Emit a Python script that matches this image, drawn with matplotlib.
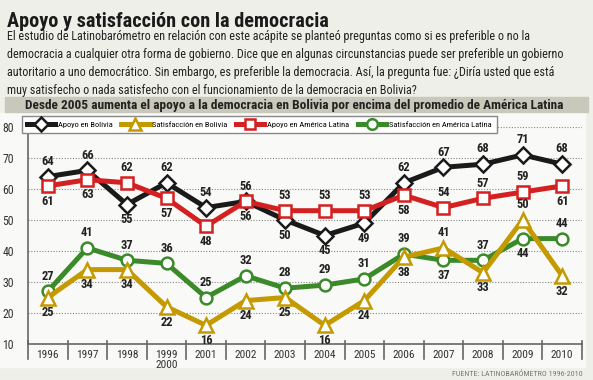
import matplotlib.pyplot as plt
from matplotlib.patches import Rectangle
from matplotlib.lines import Line2D

years = ['1996', '1997', '1998', '1999\n2000', '2001', '2002', '2003',
         '2004', '2005', '2006', '2007', '2008', '2009', '2010']
apoyo_bol = [64, 66, 55, 62, 54, 56, 50, 45, 49, 62, 67, 68, 71, 68]
satis_bol = [25, 34, 34, 22, 16, 24, 25, 16, 24, 38, 41, 33, 50, 32]
apoyo_al = [61, 63, 62, 57, 48, 56, 53, 53, 53, 58, 54, 57, 59, 61]
satis_al = [27, 41, 37, 36, 25, 32, 28, 29, 31, 39, 37, 37, 44, 44]

# label side for each point: 1 above, -1 below
side_ab = [1, 1, -1, 1, 1, -1, -1, -1, -1, 1, 1, 1, 1, 1]
side_sb = [-1, -1, -1, -1, -1, -1, -1, -1, -1, -1, 1, -1, 1, -1]
side_aa = [-1, -1, 1, -1, -1, 1, 1, 1, 1, -1, 1, 1, 1, -1]
side_sa = [1, 1, 1, 1, 1, 1, 1, 1, 1, 1, -1, 1, -1, 1]

COND = ['Roboto Condensed', 'Liberation Sans Narrow', 'DejaVu Sans']
plt.rcParams['font.family'] = COND

fig = plt.figure(figsize=(5.93, 3.80), dpi=100, facecolor='#efefea')

def px(x, y):
    return x / 593, 1 - y / 380

# white-ish plot panel
fig.patches.append(Rectangle(px(0, 367), 585 / 593, (367 - 113) / 380,
                             transform=fig.transFigure, color='#f9f9f7', zorder=-10))
# subtitle bar
fig.patches.append(Rectangle(px(5, 112), 583 / 593, 15 / 380,
                             transform=fig.transFigure, color='#c9c9bb', zorder=-10))

fig.text(*px(7, 27), 'Apoyo y satisfacción con la democracia', fontsize=14.6,
         fontweight='bold', color='#1a1a1a', va='baseline')
para = ('El estudio de Latinobarómetro en relación con este acápite se planteó preguntas como si es preferible o no la\n'
        'democracia a cualquier otra forma de gobierno. Dice que en algunas circunstancias puede ser preferible un gobierno\n'
        'autoritario a uno democrático. Sin embargo, es preferible la democracia. Así, la pregunta fue: ¿Diría usted que está\n'
        'muy satisfecho o nada satisfecho con el funcionamiento de la democracia en Bolivia?')
fig.text(*px(7, 30), para, fontsize=8.7, color='#222222', va='top', linespacing=1.5)
fig.text(*px(294, 105), 'Desde 2005 aumenta el apoyo a la democracia en Bolivia por encima del promedio de América Latina',
         fontsize=9.6, fontweight='bold', color='#222222', ha='center', va='center')
fig.text(*px(583, 373), 'FUENTE: LATINOBARÓMETRO 1996-2010', fontsize=5.8,
         color='#777777', ha='right', va='center')

l, b = px(28, 344)
_, t = px(0, 127)
ax = fig.add_axes([l, b, (582 - 28) / 593, t - b], zorder=1)
ax.set_facecolor('none')
x = list(range(len(years)))
ax.set_xlim(-0.5, len(years) - 0.5)
ax.set_ylim(10, 80)
ax.set_yticks(range(10, 81, 10))
ax.tick_params(axis='y', length=0, labelsize=8.5, labelcolor='#333333', pad=10)
ax.set_xticks(x)
ax.set_xticklabels(years, fontsize=8.2, color='#333333', linespacing=1.0)
ax.tick_params(axis='x', length=0, pad=4)
for s in ['top', 'right']:
    ax.spines[s].set_visible(False)
ax.spines['left'].set_color('#666666')
ax.spines['bottom'].set_color('#666666')
ax.spines['left'].set_linewidth(1.2)
ax.spines['bottom'].set_linewidth(1.2)
for v in range(20, 81, 10):
    ax.axhline(v, color='#888888', lw=0.8, ls=(0, (1, 1.5)), zorder=1)
for i in range(len(years) + 1):
    xb = i - 0.5
    ax.plot([xb, xb], [-0.07, 0.015], transform=ax.get_xaxis_transform(),
            color='#666666', lw=1.2, clip_on=False)

series = [
    ('Apoyo en Bolivia', apoyo_bol, side_ab, '#1a1a1a', 'D', 8),
    ('Satisfacción en Bolivia', satis_bol, side_sb, '#c49a00', '^', 10),
    ('Apoyo en América Latina', apoyo_al, side_aa, '#d42020', 's', 8.5),
    ('Satisfacción en América Latina', satis_al, side_sa, '#3a8a2a', 'o', 8.5),
]
draw_order = [1, 3, 2, 0]
handles = []
for k, (name, vals, sides, col, mk, ms) in enumerate(series):
    z = 3 + draw_order[k]
    ax.plot(x, vals, color=col, lw=3.6, marker=mk, ms=ms, mfc='white',
            mec=col, mew=1.8, zorder=z, solid_joinstyle='miter')
    for xi, v, sd in zip(x, vals, sides):
        ax.annotate(str(v), (xi, v), xytext=(0, 11 * sd), textcoords='offset points',
                    ha='center', va='center', fontsize=9, fontweight='bold',
                    color='#222222', zorder=10)
    handles.append(Line2D([0], [0], color=col, lw=3.6, marker=mk, ms=ms * 0.9,
                          mfc='white', mec=col, mew=1.8))

leg = ax.legend(handles, [s[0] for s in series], ncol=4, loc='upper left',
                bbox_to_anchor=(-0.011, 1.05), frameon=True, fancybox=False,
                fontsize=6.0, handlelength=3.4, columnspacing=1.0,
                handletextpad=0.35, borderpad=0.6, borderaxespad=0)
leg.get_frame().set_edgecolor('#888888')
leg.get_frame().set_facecolor('white')
leg.get_frame().set_alpha(1)
leg.set_zorder(20)

fig.savefig('out.png', dpi=100, facecolor=fig.get_facecolor())
